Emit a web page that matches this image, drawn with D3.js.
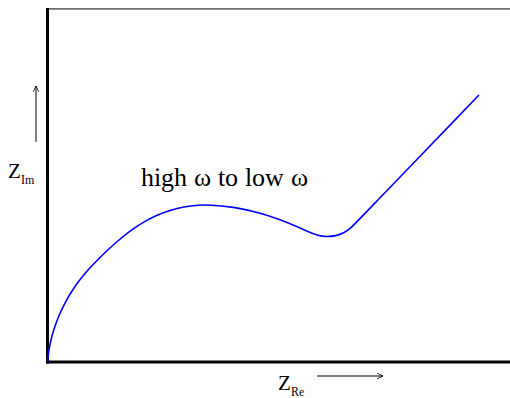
<!DOCTYPE html>
<html>
<head>
<meta charset="utf-8">
<script src="https://cdn.jsdelivr.net/npm/d3@7"></script>
<style>
  @font-face { font-family: "ChartSerif"; src: local("Liberation Serif"), local("LiberationSerif"), local("LiberationSerif-Regular"), local("Times New Roman"), local("DejaVu Serif"), local("DejaVuSerif"); }
  html, body { margin: 0; padding: 0; background: #fff; }
  svg { display: block; }
</style>
</head>
<body>
<svg id="chart" width="510" height="398"></svg>
<script>
// Nyquist impedance trace: semicircle (charge transfer) then a straight Warburg tail
const zRe = [0, 0.33, 0.88, 1.67, 2.70, 3.94, 5.42, 7.18, 9.24, 11.67, 14.55, 17.58, 20.91, 24.55, 28.64,
             32.88, 37.12, 41.36, 45.61, 49.24, 56.82, 64.39, 70.45, 76.52, 79.55, 81.97, 84.39, 87.42,
             89.85, 91.67, 94.70, 128.03, 130.76];
const zIm = [0, 3.03, 6.06, 9.09, 12.12, 15.15, 18.18, 21.21, 24.24, 27.27, 30.30, 33.33, 36.36, 39.39, 42.18,
             44.42, 46.03, 47.06, 47.58, 47.64, 46.97, 45.15, 43.18, 40.61, 39.24, 38.33, 37.94, 38.18,
             39.09, 40.30, 43.45, 78.06, 80.91];

const annotation = "high ω to low ω";
const xTitle = ["Z", "Re"];
const yTitle = ["Z", "Im"];

const W = 510, H = 398;
const FONT = "ChartSerif, 'Liberation Serif', 'Times New Roman', Tinos, 'Noto Serif', 'DejaVu Serif', FreeSerif, serif";
const svg = d3.select("#chart");

const x = d3.scaleLinear().domain([0, 140]).range([47.5, 509.5]);
const y = d3.scaleLinear().domain([0, 107]).range([362, 8.9]);

// frame: grey top edge, heavy black left and bottom axes
svg.append("line")
  .attr("x1", x(0)).attr("x2", W)
  .attr("y1", y(107)).attr("y2", y(107))
  .attr("stroke", "#6e6e6e").attr("stroke-width", 1.6);
svg.append("line")
  .attr("x1", x(0)).attr("x2", x(0))
  .attr("y1", y(107) - 0.8).attr("y2", y(0) + 1.5)
  .attr("stroke", "#000").attr("stroke-width", 3);
svg.append("line")
  .attr("x1", x(0) - 1.5).attr("x2", W)
  .attr("y1", y(0)).attr("y2", y(0))
  .attr("stroke", "#000").attr("stroke-width", 3);

// impedance curve
const pts = zRe.map((v, i) => [v, zIm[i]]);
const line = d3.line()
  .x(d => x(d[0])).y(d => y(d[1]))
  .curve(d3.curveBasis);
svg.append("path")
  .datum(pts)
  .attr("d", line)
  .attr("fill", "none")
  .attr("stroke", "#0000ff")
  .attr("stroke-width", 1.6);

// annotation
svg.append("text")
  .attr("x", 141).attr("y", 186)
  .style("font-family", FONT)
  .attr("font-size", 26)
  .attr("fill", "#000")
  .text(annotation);

// axis titles with subscripts
function title(tx, ty, parts) {
  const t = svg.append("text")
    .attr("x", tx).attr("y", ty)
    .style("font-family", FONT)
    .attr("font-size", 21)
    .attr("fill", "#000");
  t.append("tspan").text(parts[0]);
  t.append("tspan").attr("dy", 6).attr("font-size", 12).text(parts[1]);
}
title(8, 178, yTitle);
title(278, 390, xTitle);

// direction arrows (open heads)
svg.append("defs").append("marker")
  .attr("id", "head")
  .attr("viewBox", "0 0 10 10")
  .attr("refX", 9.5).attr("refY", 5)
  .attr("markerWidth", 7).attr("markerHeight", 7)
  .attr("markerUnits", "userSpaceOnUse")
  .attr("orient", "auto")
  .append("path")
  .attr("d", "M1,1 L9.5,5 L1,9")
  .attr("fill", "none").attr("stroke", "#000").attr("stroke-width", 1.2);

svg.append("line")
  .attr("x1", 36).attr("x2", 36).attr("y1", 142).attr("y2", 86)
  .attr("stroke", "#000").attr("stroke-width", 1)
  .attr("marker-end", "url(#head)");
svg.append("line")
  .attr("x1", 317).attr("x2", 383).attr("y1", 376).attr("y2", 376)
  .attr("stroke", "#000").attr("stroke-width", 1)
  .attr("marker-end", "url(#head)");
</script>
</body>
</html>
